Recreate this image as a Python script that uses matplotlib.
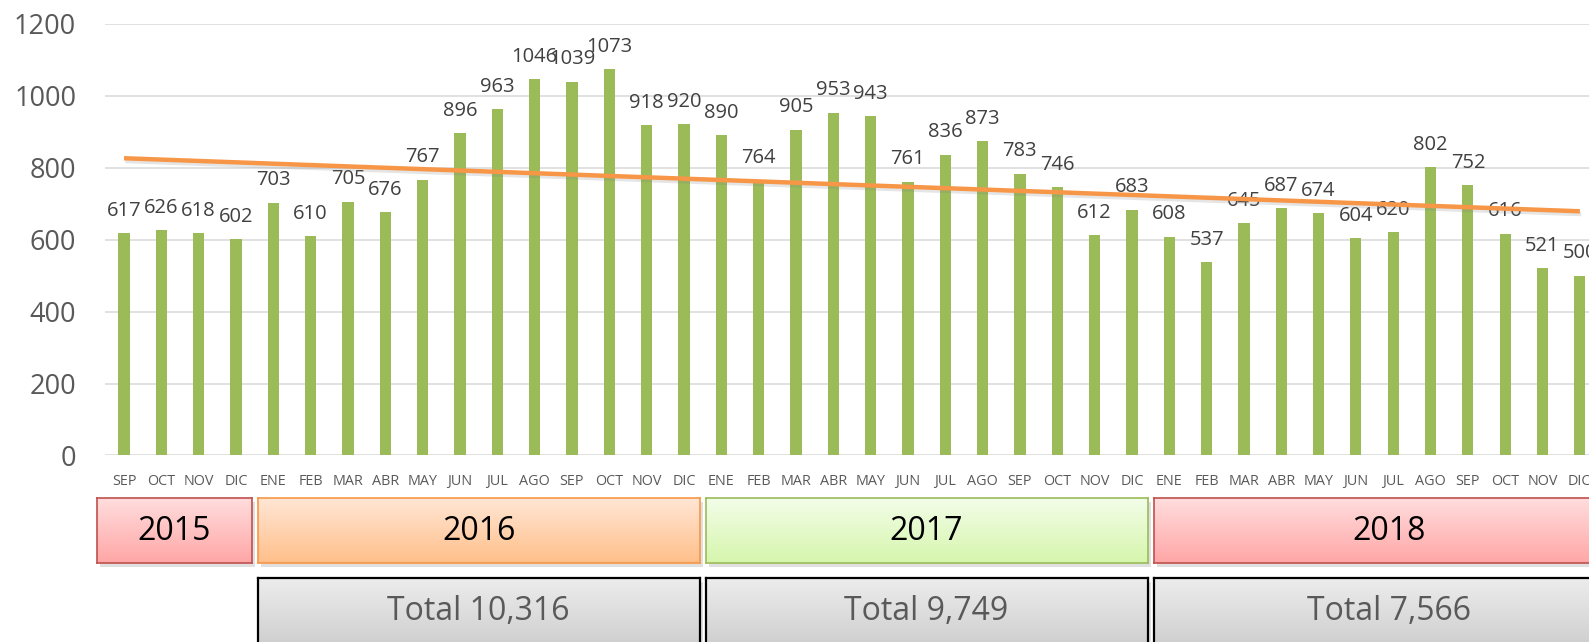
import matplotlib.pyplot as plt
import numpy as np
from matplotlib import patheffects as pe
from matplotlib.colors import LinearSegmentedColormap

plt.rcParams['font.family'] = ['Open Sans', 'DejaVu Sans']

# monthly values per year
v2015 = [617, 626, 618, 602]
v2016 = [703, 610, 705, 676, 767, 896, 963, 1046, 1039, 1073, 918, 920]
v2017 = [890, 764, 905, 953, 943, 761, 836, 873, 783, 746, 612, 683]
v2018 = [608, 537, 645, 687, 674, 604, 620, 802, 752, 616, 521, 500]

months_full = ['ENE', 'FEB', 'MAR', 'ABR', 'MAY', 'JUN',
               'JUL', 'AGO', 'SEP', 'OCT', 'NOV', 'DIC']
months_2015 = ['SEP', 'OCT', 'NOV', 'DIC']

years = ['2015', '2016', '2017', '2018']
year_values = [v2015, v2016, v2017, v2018]

values = np.array(v2015 + v2016 + v2017 + v2018)
labels = months_2015 + months_full * 3
x = np.arange(len(values))

# box colours: (top, bottom, border)
year_colors = [('#FFDEDE', '#FFA6A6', '#C0504D'),
               ('#FFE7D6', '#FFBF8A', '#F79646'),
               ('#F3FDEA', '#D6F6AC', '#9BBB59'),
               ('#FFDEDE', '#FFA6A6', '#C0504D')]

fig = plt.figure(figsize=(15.89, 6.42), dpi=100)
ax_l, ax_b, ax_w, ax_h = 0.0663, 0.2905, 0.9397, 0.6726
ax = fig.add_axes([ax_l, ax_b, ax_w, ax_h])

ax.bar(x, values, width=0.3, color='#9BBB59', zorder=2)

for xi, v in zip(x, values):
    ax.annotate(str(v), (xi, v), xytext=(0, 12.5), textcoords='offset points',
                ha='center', va='baseline', fontsize=14.5, color='#404040', zorder=3)

# linear trendline
coef = np.polyfit(x, values, 1)
ax.plot(x, np.polyval(coef, x), color='#F79646', lw=3.2, zorder=4,
        solid_capstyle='butt',
        path_effects=[pe.SimpleLineShadow(offset=(1, -2), shadow_color='gray', alpha=0.2),
                      pe.Normal()])

ax.set_xlim(-0.5, len(values) - 0.5)
ax.set_ylim(0, 1200)
ax.set_yticks(range(0, 1201, 200))
ax.set_xticks(x)
ax.set_xticklabels(labels)
ax.grid(axis='y', color='#D9D9D9', lw=1.1, zorder=0)
ax.set_axisbelow(True)
for s in ax.spines.values():
    s.set_visible(False)
ax.tick_params(axis='y', length=0, pad=21, labelsize=19.5, labelcolor='#595959')
ax.tick_params(axis='x', length=0, pad=13, labelsize=10.4, labelcolor='#595959')


def fx(d):
    return ax_l + (d + 0.5) / len(values) * ax_w


def gradient_box(x0, x1, y0, y1, top, bottom, edge, lw):
    # soft shadow under the box
    fig.patches.append(plt.Rectangle((x0 + 0.002, y0 - 0.006), x1 - x0, y1 - y0,
                                     transform=fig.transFigure, color='#000000',
                                     alpha=0.12, lw=0, zorder=-1))
    bax = fig.add_axes([x0, y0, x1 - x0, y1 - y0])
    cmap = LinearSegmentedColormap.from_list('g', [top, bottom])
    bax.imshow(np.linspace(0, 1, 256).reshape(-1, 1), aspect='auto', cmap=cmap,
               extent=[0, 1, 0, 1], origin='upper')
    bax.set_xticks([])
    bax.set_yticks([])
    for s in bax.spines.values():
        s.set_color(edge)
        s.set_linewidth(lw)
    return bax


# year boxes and totals
start = 0
gap = 0.08
for i, (yr, vals) in enumerate(zip(years, year_values)):
    end = start + len(vals) - 1
    left = start - 0.5 + gap if i > 0 else -0.72
    right = end + 0.5 - gap if i < len(years) - 1 else end + 1.2
    x0, x1 = fx(left), fx(right)
    top, bottom, edge = year_colors[i]
    gradient_box(x0, x1, 1 - 563 / 642, 1 - 498 / 642, top, bottom, edge, 1.2)
    fig.text((x0 + x1) / 2, 1 - 532 / 642, yr, ha='center', va='center',
             fontsize=23, color='black')
    if i > 0:
        gradient_box(x0, x1, -0.03, 1 - 578 / 642, '#EDEDED', '#C8C8C8', 'black', 1.6)
        fig.text((x0 + x1) / 2, 1 - 611 / 642, f'Total {sum(vals):,}', ha='center',
                 va='center', fontsize=23, color='#595959')
    start = end + 1

fig.savefig('out.png', dpi=100)
